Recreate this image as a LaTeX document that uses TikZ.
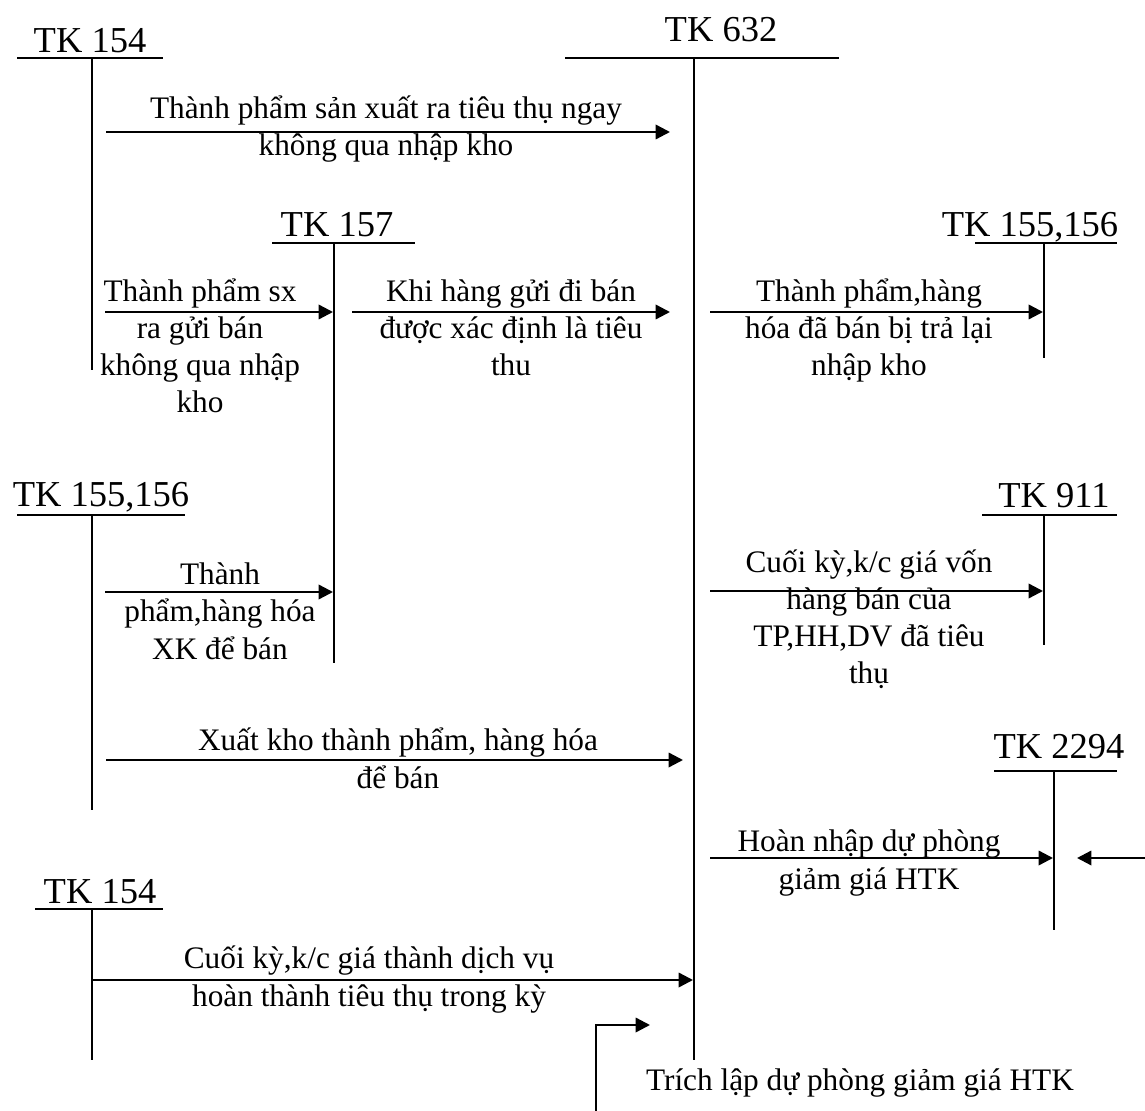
\documentclass[tikz,border=0pt]{standalone}
\usepackage{fontspec}
\setmainfont{Liberation Serif}
\usetikzlibrary{arrows.meta}

\begin{document}
\begin{tikzpicture}[
  x=0.3834pt, y=-0.3834pt,
  every node/.style = {inner sep=0pt, font=\fontsize{12}{14.2}\selectfont},
  acct/.style       = {anchor=base, font=\fontsize{14}{16}\selectfont},
  memo/.style       = {anchor=base, align=center},
  tline/.style      = {draw=black, line width=0.6pt},
  flow/.style       = {-{Triangle[length=5.5pt,width=5.5pt]}, draw=black, line width=0.9pt},
]
  \useasboundingbox (0,0) rectangle (1145,1111);

  % ------------------------------------------------------------ accounts
  \node[acct] (tk154a) at (90,53)    {TK 154};
  \draw[tline] (17,58) -- (163,58) (92,58) -- (92,370);

  \node[acct] (tk632)  at (721,42)   {TK 632};
  \draw[tline] (565,58) -- (839,58) (694,58) -- (694,1060);

  \node[acct] (tk157)  at (337,237)  {TK 157};
  \draw[tline] (272,243) -- (415,243) (334,243) -- (334,663);

  \node[acct] (tk155r) at (1030,237) {TK 155,156};
  \draw[tline] (975,243) -- (1117,243) (1044,243) -- (1044,358);

  \node[acct] (tk155l) at (101,507)  {TK 155,156};
  \draw[tline] (17,515) -- (185,515) (92,515) -- (92,810);

  \node[acct] (tk911)  at (1054,508) {TK 911};
  \draw[tline] (982,515) -- (1117,515) (1044,515) -- (1044,645);

  \node[acct] (tk2294) at (1059,758) {TK 2294};
  \draw[tline] (994,771) -- (1117,771) (1054,771) -- (1054,930);

  \node[acct] (tk154b) at (100,903)  {TK 154};
  \draw[tline] (35,909) -- (163,909) (92,909) -- (92,1060);

  % ------------------------------------------------------------ end points
  \coordinate (a1) at (106,132);  \coordinate (b1) at (670,132);
  \coordinate (a2) at (105,312);  \coordinate (b2) at (333,312);
  \coordinate (a3) at (352,312);  \coordinate (b3) at (670,312);
  \coordinate (a4) at (710,312);  \coordinate (b4) at (1043,312);
  \coordinate (a5) at (105,592);  \coordinate (b5) at (333,592);
  \coordinate (a6) at (710,591);  \coordinate (b6) at (1043,591);
  \coordinate (a7) at (106,760);  \coordinate (b7) at (683,760);
  \coordinate (a8) at (710,858);  \coordinate (b8) at (1053,858);
  \coordinate (a9) at (1145,858); \coordinate (b9) at (1077,858);
  \coordinate (a10) at (92,980);  \coordinate (b10) at (693,980);
  \coordinate (a11) at (596,1111); \coordinate (b11) at (650,1025);

  % ------------------------------------------------------------ entries
  \draw[flow] (a1) -- (b1);
  \node[memo] (m1) at (386,156) {Thành phẩm sản xuất ra tiêu thụ ngay\\không qua nhập kho};

  \draw[flow] (a2) -- (b2);
  \node[memo] (m2) at (200,413) {Thành phẩm sx\\ra gửi bán\\không qua nhập\\kho};

  \draw[flow] (a3) -- (b3);
  \node[memo] (m3) at (511,376) {Khi hàng gửi đi bán\\được xác định là tiêu\\thu};

  \draw[flow] (a4) -- (b4);
  \node[memo] (m4) at (869,376) {Thành phẩm,hàng\\hóa đã bán bị trả lại\\nhập kho};

  \draw[flow] (a5) -- (b5);
  \node[memo] (m5) at (220,659) {Thành\\phẩm,hàng hóa\\XK để bán};

  \draw[flow] (a6) -- (b6);
  \node[memo] (m6) at (869,684) {Cuối kỳ,k/c giá vốn\\hàng bán của\\TP,HH,DV đã tiêu\\thụ};

  \draw[flow] (a7) -- (b7);
  \node[memo] (m7) at (398,788) {Xuất kho thành phẩm, hàng hóa\\để bán};

  \draw[flow] (a8) -- (b8);
  \node[memo] (m8) at (869,889) {Hoàn nhập dự phòng\\giảm giá HTK};

  \draw[flow] (a9) -- (b9);

  \draw[flow] (a10) -- (b10);
  \node[memo] (m10) at (369,1006) {Cuối kỳ,k/c giá thành dịch vụ\\hoàn thành tiêu thụ trong kỳ};

  \draw[flow] (a11) |- (b11);
  \node[memo] (m11) at (860,1090) {Trích lập dự phòng giảm giá HTK};

\end{tikzpicture}
\end{document}
